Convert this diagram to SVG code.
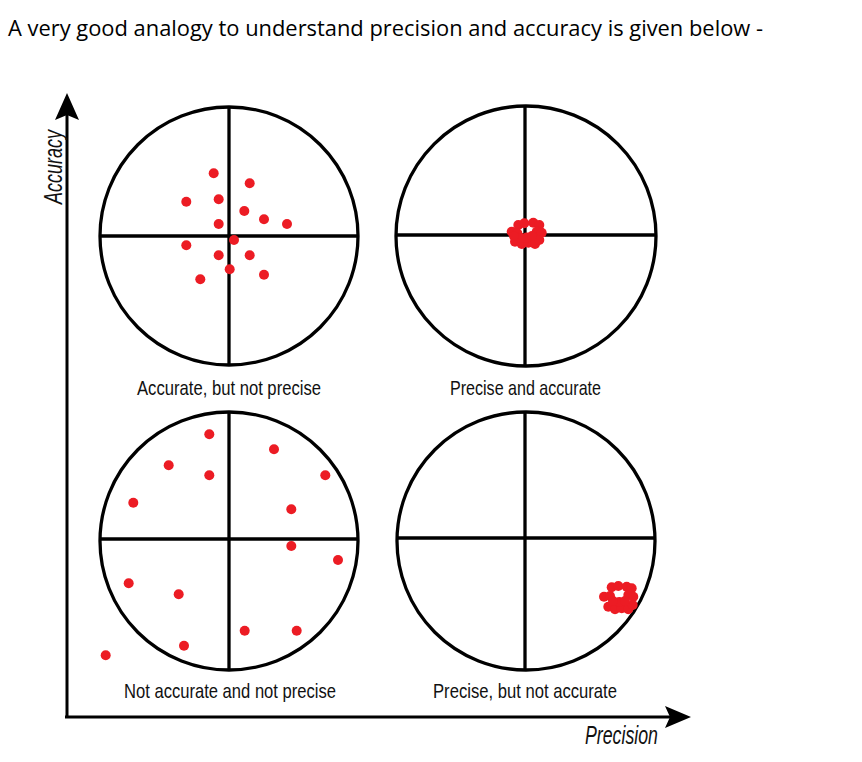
<svg xmlns="http://www.w3.org/2000/svg" width="862" height="762" viewBox="0 0 862 762">
<style>
.t{fill:none;stroke:#000;stroke-width:3.3}
.d{fill:#ec1c24}
.lbl{font-family:"Liberation Sans",Arial,sans-serif;font-size:21px;fill:#111}
.ax{font-family:"Liberation Sans",Arial,sans-serif;font-size:25px;font-style:italic;fill:#111}
</style>
<rect width="862" height="762" fill="#fff"/>
<text x="8" y="36" font-family="Open Sans, Liberation Sans, sans-serif" font-size="21" fill="#000" textLength="755" lengthAdjust="spacingAndGlyphs">A very good analogy to understand precision and accuracy is given below -</text>

<g id="axes">
<line x1="67" y1="718" x2="67" y2="112" stroke="#000" stroke-width="3"/>
<path d="M67,93 L79,120 L67,115 L55,120 Z" fill="#000"/>
<line x1="65" y1="717" x2="672" y2="717" stroke="#000" stroke-width="3"/>
<path d="M691,717 L665,706 L670,717 L665,728 Z" fill="#000"/>
<text class="ax" transform="translate(62,204) rotate(-90)" textLength="74" lengthAdjust="spacingAndGlyphs">Accuracy</text>
<text class="ax" x="585" y="744" textLength="73" lengthAdjust="spacingAndGlyphs">Precision</text>
</g>

<g id="target-accurate-not-precise">
<circle class="t" cx="229" cy="236" r="129"/>
<line class="t" x1="100" y1="236" x2="358" y2="236"/>
<line class="t" x1="229" y1="107" x2="229" y2="365"/>
<g class="d">
<circle cx="213.7" cy="173.3" r="5"/><circle cx="249.7" cy="183.3" r="5"/>
<circle cx="186.3" cy="201.7" r="5"/><circle cx="218.7" cy="199.3" r="5"/>
<circle cx="244.3" cy="211" r="5"/><circle cx="264" cy="219.3" r="5"/>
<circle cx="287" cy="224" r="5"/><circle cx="218.7" cy="224" r="5"/>
<circle cx="234" cy="240" r="5"/><circle cx="186.3" cy="245.3" r="5"/>
<circle cx="218.7" cy="255.3" r="5"/><circle cx="249.7" cy="255.3" r="5"/>
<circle cx="229.7" cy="269.3" r="5"/><circle cx="200.3" cy="279.3" r="5"/>
<circle cx="264" cy="274.7" r="5"/>
</g>
<text class="lbl" x="137" y="395" textLength="184" lengthAdjust="spacingAndGlyphs">Accurate, but not precise</text>
</g>

<g id="target-precise-accurate">
<circle class="t" cx="526" cy="236" r="130"/>
<line class="t" x1="396" y1="235" x2="656" y2="235"/>
<line class="t" x1="525" y1="106" x2="525" y2="366"/>
<g class="d">
<circle cx="518.3" cy="225" r="5"/><circle cx="524.3" cy="223.3" r="5"/>
<circle cx="533.3" cy="222.7" r="5"/><circle cx="539.3" cy="225" r="5"/>
<circle cx="511.7" cy="231.7" r="5"/><circle cx="517.3" cy="233.3" r="5"/>
<circle cx="536.7" cy="231.7" r="5"/><circle cx="541.7" cy="232.7" r="5"/>
<circle cx="515" cy="241.7" r="5"/><circle cx="521.7" cy="244" r="5"/>
<circle cx="528.3" cy="242.7" r="5"/><circle cx="535" cy="244" r="5"/>
<circle cx="539.3" cy="240" r="5"/><circle cx="526.7" cy="237.5" r="5"/>
<circle cx="521" cy="238" r="5"/><circle cx="532" cy="236" r="5"/>
<circle cx="514" cy="236" r="5"/>
</g>
<text class="lbl" x="450" y="395" textLength="151" lengthAdjust="spacingAndGlyphs">Precise and accurate</text>
</g>

<g id="target-not-accurate-not-precise">
<circle class="t" cx="229" cy="541" r="129"/>
<line class="t" x1="100" y1="539" x2="358" y2="539"/>
<line class="t" x1="229" y1="412" x2="229" y2="670"/>
<g class="d">
<circle cx="209.3" cy="434.3" r="5"/><circle cx="168.7" cy="465.3" r="5"/>
<circle cx="209.3" cy="475.3" r="5"/><circle cx="133.3" cy="502.7" r="5"/>
<circle cx="274" cy="449.3" r="5"/><circle cx="325.3" cy="475.3" r="5"/>
<circle cx="291.3" cy="509.3" r="5"/><circle cx="291.3" cy="546" r="5"/>
<circle cx="338" cy="560" r="5"/><circle cx="128.7" cy="583.3" r="5"/>
<circle cx="178.7" cy="594.3" r="5"/><circle cx="244.7" cy="630.7" r="5"/>
<circle cx="296.7" cy="630.7" r="5"/><circle cx="184" cy="645.7" r="5"/>
<circle cx="105.7" cy="655.3" r="5"/>
</g>
<text class="lbl" x="124" y="698" textLength="212" lengthAdjust="spacingAndGlyphs">Not accurate and not precise</text>
</g>

<g id="target-precise-not-accurate">
<circle class="t" cx="526" cy="541" r="129"/>
<line class="t" x1="397" y1="538" x2="655" y2="538"/>
<line class="t" x1="525" y1="412" x2="525" y2="670"/>
<g class="d">
<circle cx="611.7" cy="587.3" r="5"/><circle cx="618.3" cy="586" r="5"/>
<circle cx="626.7" cy="586.7" r="5"/><circle cx="631.7" cy="588.3" r="5"/>
<circle cx="604" cy="596.7" r="5"/><circle cx="610" cy="596" r="5"/>
<circle cx="628.3" cy="595" r="5"/><circle cx="633.3" cy="596.7" r="5"/>
<circle cx="608.3" cy="606.7" r="5"/><circle cx="615" cy="609.3" r="5"/>
<circle cx="621.7" cy="608.3" r="5"/><circle cx="628.3" cy="609.3" r="5"/>
<circle cx="632.7" cy="605" r="5"/><circle cx="619.3" cy="602" r="5"/>
<circle cx="613" cy="601" r="5"/><circle cx="625" cy="601" r="5"/>
</g>
<text class="lbl" x="433" y="698" textLength="184" lengthAdjust="spacingAndGlyphs">Precise, but not accurate</text>
</g>
</svg>
